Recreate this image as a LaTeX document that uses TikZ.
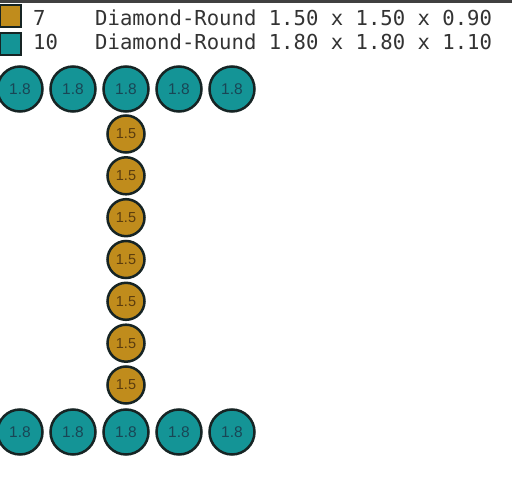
\documentclass[tikz,border=0pt]{standalone}
\usepackage{fontspec}
\newfontfamily\monof{DejaVu Sans Mono}
\newfontfamily\sansf{Liberation Sans}
\definecolor{teal1}{RGB}{20,148,150}
\definecolor{gold1}{RGB}{192,140,28}
\definecolor{rim}{RGB}{22,36,36}
\definecolor{tealtxt}{RGB}{25,70,85}
\definecolor{goldtxt}{RGB}{90,60,15}
\begin{document}
\begin{tikzpicture}[x=1pt,y=-1pt,
  bigc/.style={circle,draw=rim,line width=2.5pt,fill=teal1,minimum size=45pt,inner sep=0pt,text=tealtxt,font=\sansf\fontsize{15.5}{16}\selectfont},
  smallc/.style={circle,draw=rim,line width=2.5pt,fill=gold1,minimum size=37pt,inner sep=0pt,text=goldtxt,font=\sansf\fontsize{14.5}{15}\selectfont},
  swatch/.style={rectangle,draw=rim,line width=2pt,line join=miter,minimum width=21pt,minimum height=22pt,inner sep=0pt},
  legtxt/.style={anchor=base west,inner sep=0pt,font=\monof\fontsize{20.6}{22}\selectfont,text=black!80}]
\useasboundingbox (0,0) rectangle (512,486);
\fill[white] (0,0) rectangle (512,486);
\fill[black!75] (0,0) rectangle (512,3);
% legend
\node[swatch,fill=gold1] (s1) at (10,16.5) {};
\node[swatch,fill=teal1] (s2) at (10,44) {};
\node[legtxt] (l1) at (33,26) {7\ \ \ \ Diamond-Round 1.50 x 1.50 x 0.90};
\node[legtxt] (l2) at (33,50) {10\ \ \ Diamond-Round 1.80 x 1.80 x 1.10};
% flanges
\foreach \i/\x in {1/20,2/73,3/126,4/179,5/232}{
  \node[bigc] (t\i) at (\x,89) {1.8};
  \node[bigc] (b\i) at (\x,432) {1.8};
}
% web
\foreach \i/\y in {1/134,2/175.8,3/217.7,4/259.5,5/301.3,6/343.2,7/385}{
  \node[smallc] (w\i) at (126,\y) {1.5};
}
\end{tikzpicture}
\end{document}
